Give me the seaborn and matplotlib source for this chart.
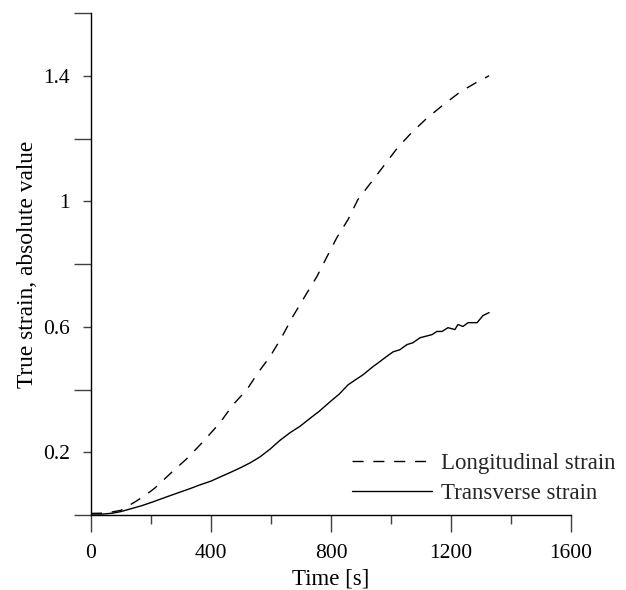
import matplotlib
matplotlib.use("Agg")
import matplotlib.pyplot as plt
import seaborn as sns
import pandas as pd
from matplotlib.ticker import FixedLocator, NullFormatter, FixedFormatter

# ---- data ----
t_long = [0, 50, 100, 147, 180, 213, 270, 320, 370, 430, 473, 520, 557, 597, 637,
          673, 713, 753, 787, 820, 857, 890, 937, 980, 1023, 1070, 1120, 1170,
          1230, 1287, 1327]
v_long = [0.005, 0.006, 0.015, 0.042, 0.062, 0.086, 0.137, 0.18, 0.23, 0.294,
          0.351, 0.40, 0.454, 0.505, 0.569, 0.633, 0.697, 0.76, 0.824, 0.885,
          0.942, 1.006, 1.064, 1.118, 1.172, 1.22, 1.265, 1.304, 1.348, 1.38, 1.40]

t_trans = [0, 40, 73, 100, 130, 170, 207, 250, 297, 330, 363, 400, 430, 463, 497,
           530, 563, 597, 630, 663, 697, 730, 760, 797, 827, 857, 880, 907, 940,
           963, 985, 1007, 1030, 1053, 1073, 1097, 1137, 1153, 1170, 1190, 1213,
           1223, 1240, 1257, 1287, 1307, 1327]
v_trans = [0.003, 0.003, 0.006, 0.011, 0.019, 0.030, 0.042, 0.057, 0.073, 0.084,
           0.096, 0.108, 0.121, 0.135, 0.150, 0.166, 0.185, 0.210, 0.238, 0.262,
           0.283, 0.308, 0.330, 0.361, 0.385, 0.415, 0.430, 0.447, 0.473, 0.489,
           0.505, 0.520, 0.527, 0.543, 0.549, 0.565, 0.575, 0.585, 0.585, 0.597,
           0.591, 0.607, 0.601, 0.613, 0.613, 0.636, 0.645]

series_names = ["Longitudinal strain", "Transverse strain"]
x_ticks = [0, 400, 800, 1200, 1600]
x_minor = [200, 600, 1000, 1400]
y_labeled = [0.2, 0.6, 1.0, 1.4]
y_labels = ["0.2", "0.6", "1", "1.4"]
y_long_ticks = [0, 0.4, 0.8, 1.2, 1.6]

df = pd.concat([
    pd.DataFrame({"Time": t_long, "Strain": v_long, "series": series_names[0]}),
    pd.DataFrame({"Time": t_trans, "Strain": v_trans, "series": series_names[1]}),
], ignore_index=True)

sns.set_theme(style="ticks")
plt.rcParams["font.family"] = ["Liberation Serif", "DejaVu Serif"]

fig = plt.figure(figsize=(6.26, 5.90), dpi=100)
ax = fig.add_axes([91 / 626, 75 / 590, 480 / 626, 502 / 590])

sns.lineplot(data=df, x="Time", y="Strain", hue="series", style="series",
             palette=["black", "black"], dashes={series_names[0]: (8, 7), series_names[1]: ""},
             linewidth=1.0, ax=ax, legend=True, sort=False, estimator=None)

ax.set_xlim(0, 1600)
ax.set_ylim(0, 1.6)
ax.margins(0)

for s in ["top", "right"]:
    ax.spines[s].set_visible(False)
for s in ["left", "bottom"]:
    ax.spines[s].set_color("black")
    ax.spines[s].set_linewidth(1.0)

ax.xaxis.set_major_locator(FixedLocator(x_ticks))
ax.xaxis.set_minor_locator(FixedLocator(x_minor))
ax.set_xticklabels([str(v) for v in x_ticks])
ax.tick_params(axis="x", which="major", length=12, width=1.0, color="#404040",
               labelsize=15.5, pad=9, labelcolor="black")
ax.tick_params(axis="x", which="minor", length=6.5, width=1.0, color="#404040")

ax.yaxis.set_major_locator(FixedLocator(y_labeled))
ax.yaxis.set_major_formatter(FixedFormatter(y_labels))
ax.yaxis.set_minor_locator(FixedLocator(y_long_ticks))
ax.yaxis.set_minor_formatter(NullFormatter())
ax.tick_params(axis="y", which="major", length=6, width=1.0, color="#404040",
               labelsize=15.5, pad=9, labelcolor="black")
ax.tick_params(axis="y", which="minor", length=12, width=1.0, color="#404040")
for t in ax.xaxis.get_minor_ticks() + ax.yaxis.get_minor_ticks() + ax.xaxis.get_major_ticks() + ax.yaxis.get_major_ticks():
    t.tick1line.set_clip_on(False)

ax.set_xlabel("Time [s]", fontsize=16.5, labelpad=4, color="black")
ax.set_ylabel("True strain, absolute value", fontsize=16.8, labelpad=4, color="black")

handles, labels = ax.get_legend_handles_labels()
ax.legend_.remove()
fig.legend(handles, labels, loc="upper left", bbox_to_anchor=(352 / 626, 1 - 453 / 590),
           frameon=False, fontsize=16.5, handlelength=3.5, handletextpad=0.4,
           borderpad=0, borderaxespad=0, labelspacing=0.4)

fig.savefig("out.png", dpi=100)
